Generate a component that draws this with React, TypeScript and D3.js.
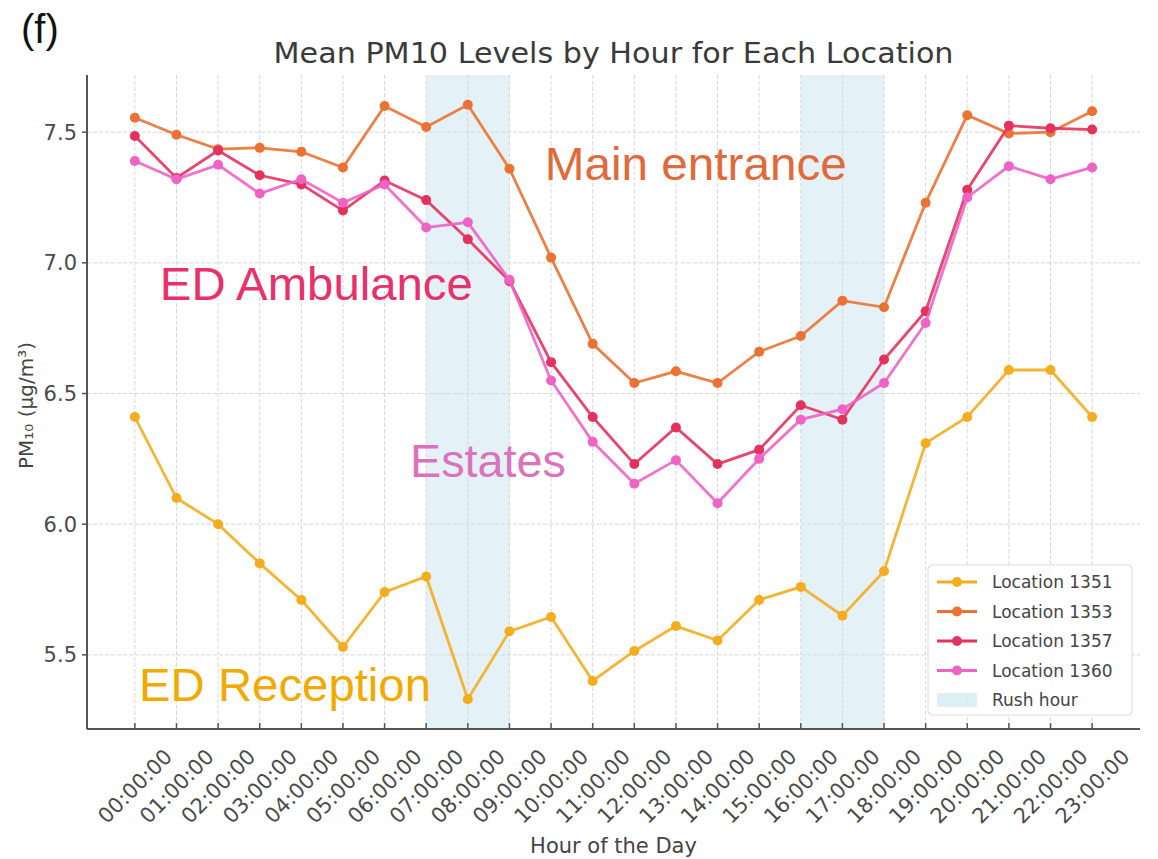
import React from "react";
import * as d3 from "d3";

const hours = [
  "00:00:00", "01:00:00", "02:00:00", "03:00:00", "04:00:00", "05:00:00",
  "06:00:00", "07:00:00", "08:00:00", "09:00:00", "10:00:00", "11:00:00",
  "12:00:00", "13:00:00", "14:00:00", "15:00:00", "16:00:00", "17:00:00",
  "18:00:00", "19:00:00", "20:00:00", "21:00:00", "22:00:00", "23:00:00",
];

const loc1351 = [6.41, 6.10, 6.00, 5.85, 5.71, 5.53, 5.74, 5.80, 5.33, 5.59, 5.645, 5.40,
  5.515, 5.61, 5.555, 5.71, 5.76, 5.65, 5.82, 6.31, 6.41, 6.59, 6.59, 6.41];
const loc1353 = [7.555, 7.49, 7.435, 7.44, 7.425, 7.365, 7.60, 7.52, 7.605, 7.36, 7.02, 6.69,
  6.54, 6.585, 6.54, 6.66, 6.72, 6.855, 6.83, 7.23, 7.565, 7.495, 7.50, 7.58];
const loc1357 = [7.485, 7.325, 7.43, 7.335, 7.30, 7.20, 7.315, 7.24, 7.09, 6.93, 6.62, 6.41,
  6.23, 6.37, 6.23, 6.285, 6.455, 6.40, 6.63, 6.815, 7.28, 7.525, 7.515, 7.51];
const loc1360 = [7.39, 7.32, 7.375, 7.265, 7.32, 7.23, 7.30, 7.135, 7.155, 6.935, 6.55, 6.315,
  6.155, 6.245, 6.08, 6.25, 6.40, 6.44, 6.54, 6.77, 7.25, 7.37, 7.32, 7.365];

const seriesNames = ["Location 1351", "Location 1353", "Location 1357", "Location 1360"];
const seriesColors = ["#f4ad1e", "#eb7232", "#e4325e", "#ef62c6"];
const rushHours = [[7, 9], [16, 18]];
const yTicks = [5.5, 6.0, 6.5, 7.0, 7.5];

// site labels, placed in data units (hour, PM10)
const siteLabels = [
  { text: "Main entrance", h: 9.85, v: 7.318, color: "#e2693a", len: 302 },
  { text: "ED Ambulance", h: 0.6, v: 6.857, color: "#e8306a", len: 313 },
  { text: "Estates", h: 6.61, v: 6.179, color: "#dc72bc", len: 156 },
  { text: "ED Reception", h: 0.1, v: 5.324, color: "#f2a900", len: 292 },
];

const FONT = "'DejaVu Sans', sans-serif";
const W = 1158, H = 859;
const m = { left: 87, right: 1140, top: 75, bottom: 729 };

export default function App() {
  const series = [loc1351, loc1353, loc1357, loc1360];
  const n = hours.length;
  const pad = (n - 1) * 0.05;
  const x = d3.scaleLinear().domain([-pad, n - 1 + pad]).range([m.left, m.right]);
  const all = series.flat();
  const [lo, hi] = d3.extent(all) as [number, number];
  const yp = (hi - lo) * 0.05;
  const y = d3.scaleLinear().domain([lo - yp, hi + yp]).range([m.bottom, m.top]);
  const line = d3.line<number>().x((_, i) => x(i)).y(d => y(d));

  const legendX = 928, legendY = 565, rowH = 29.5;

  return (
    <svg width={W} height={H} style={{ position: "absolute", left: 0, top: 0, background: "#fff" }}
      fontFamily={FONT}>
      <text x={21} y={43} fontFamily="'Liberation Sans', Arial, sans-serif" fontSize={40}
        fill="#111">(f)</text>
      <text x={(m.left + m.right) / 2} y={63} textAnchor="middle" fontSize={28} fill="#3a3a3a"
        textLength={680} lengthAdjust="spacingAndGlyphs">Mean PM10 Levels by Hour for Each Location</text>

      {/* rush hour bands */}
      {rushHours.map(([a, b], i) => (
        <rect key={i} x={x(a)} y={m.top} width={x(b) - x(a)} height={m.bottom - m.top}
          fill="#add8e6" fillOpacity={0.33} />
      ))}

      {/* grid */}
      {hours.map((_, i) => (
        <line key={"gx" + i} x1={x(i)} x2={x(i)} y1={m.top} y2={m.bottom}
          stroke="#d8d8d8" strokeWidth={1} strokeDasharray="4,2" />
      ))}
      {yTicks.map(t => (
        <line key={"gy" + t} x1={m.left} x2={m.right} y1={y(t)} y2={y(t)}
          stroke="#d8d8d8" strokeWidth={1} strokeDasharray="4,2" />
      ))}

      {/* series */}
      {series.map((s, k) => (
        <g key={k}>
          <path d={line(s) || ""} fill="none" stroke={seriesColors[k]} strokeWidth={2.8}
            strokeOpacity={0.9} />
          {s.map((v, i) => (
            <circle key={i} cx={x(i)} cy={y(v)} r={5} fill={seriesColors[k]} />
          ))}
        </g>
      ))}

      {/* site labels */}
      {siteLabels.map(l => (
        <text key={l.text} x={x(l.h)} y={y(l.v)} fontFamily="'Liberation Sans', Arial, sans-serif"
          fontSize={46} fill={l.color} textLength={l.len} lengthAdjust="spacingAndGlyphs">{l.text}</text>
      ))}

      {/* axes */}
      <line x1={m.left} x2={m.left} y1={m.top} y2={m.bottom} stroke="#555" strokeWidth={2} />
      <line x1={m.left} x2={m.right} y1={m.bottom} y2={m.bottom} stroke="#555" strokeWidth={2} />
      {yTicks.map(t => (
        <g key={"yt" + t}>
          <line x1={m.left - 5} x2={m.left} y1={y(t)} y2={y(t)} stroke="#555" strokeWidth={1.5} />
          <text x={m.left - 10} y={y(t)} dy="0.36em" textAnchor="end" fontSize={21} fill="#4a4a4a">
            {t.toFixed(1)}
          </text>
        </g>
      ))}
      {hours.map((h, i) => (
        <g key={"xt" + i}>
          <line x1={x(i)} x2={x(i)} y1={m.bottom - 6} y2={m.bottom} stroke="#555" strokeWidth={1.5} />
          <text transform={`translate(${x(i)},${m.bottom + 57}) rotate(-45)`} textAnchor="middle"
            dy="0.36em" fontSize={21} fill="#4a4a4a">{h}</text>
        </g>
      ))}
      <text x={(m.left + m.right) / 2} y={853} textAnchor="middle" fontSize={21} fill="#444">
        Hour of the Day
      </text>
      <text transform={`translate(33,${y(6.5) + 12}) rotate(-90)`} textAnchor="middle" fontSize={20}
        fill="#444">PM₁₀ (µg/m³)</text>

      {/* legend */}
      <rect x={legendX} y={legendY} width={204} height={150} rx={4} fill="#fff" fillOpacity={0.85}
        stroke="#ddd" />
      {seriesNames.map((name, k) => {
        const cy = legendY + 17 + k * rowH;
        return (
          <g key={name}>
            <line x1={legendX + 9} x2={legendX + 49} y1={cy} y2={cy} stroke={seriesColors[k]} strokeWidth={2.8} />
            <circle cx={legendX + 29} cy={cy} r={5} fill={seriesColors[k]} />
            <text x={legendX + 64} y={cy} dy="0.36em" fontSize={17} fill="#444">{name}</text>
          </g>
        );
      })}
      <rect x={legendX + 9} y={legendY + 17 + 4 * rowH - 7} width={40} height={14} fill="#add8e6" fillOpacity={0.4} />
      <text x={legendX + 64} y={legendY + 17 + 4 * rowH} dy="0.36em" fontSize={17} fill="#444">Rush hour</text>
    </svg>
  );
}
